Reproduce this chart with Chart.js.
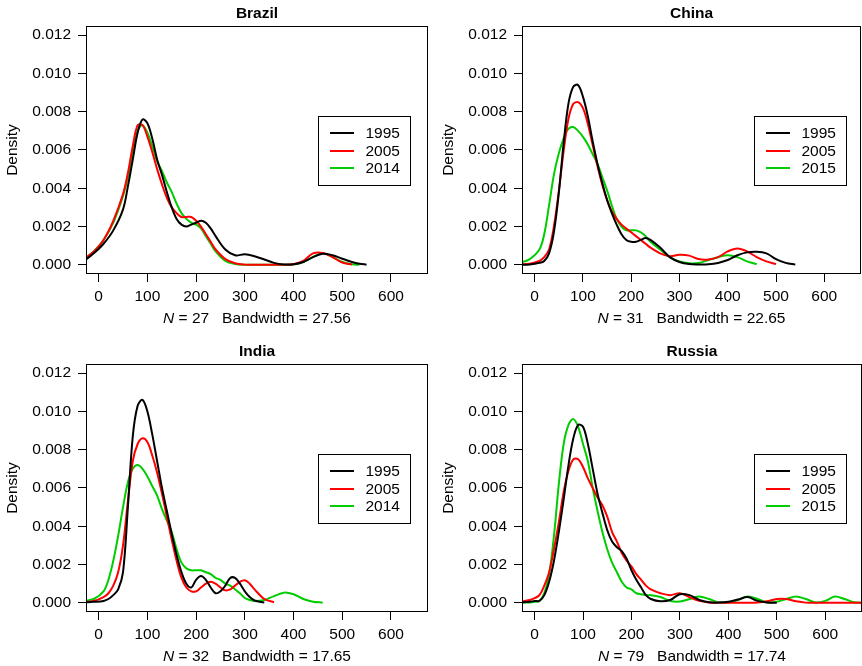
<!DOCTYPE html>
<html>
<head>
<meta charset="utf-8">
<script src="https://cdn.jsdelivr.net/npm/chart.js@4/dist/chart.umd.min.js"></script>
<style>
  html, body { margin: 0; padding: 0; background: #fff; }
  #wrap { position: relative; width: 862px; height: 666px; overflow: hidden; }
  #wrap canvas { position: absolute; }
</style>
</head>
<body>
<div id="wrap">
  <canvas id="brazilChart" width="431" height="333" style="left:0;top:0"></canvas>
  <canvas id="chinaChart" width="431" height="333" style="left:431px;top:0"></canvas>
  <canvas id="indiaChart" width="431" height="333" style="left:0;top:333px"></canvas>
  <canvas id="russiaChart" width="431" height="333" style="left:431px;top:333px"></canvas>
</div>
<script>
// axis ticks (same for every panel)
const xTicks = [0, 100, 200, 300, 400, 500, 600];
const yTicks = [0, 0.002, 0.004, 0.006, 0.008, 0.010, 0.012];

// Brazil
const brazilX = [-30, -10, 10, 30, 50, 60, 70, 80, 90, 100, 110, 120, 130, 140, 150, 160, 170, 180, 190, 200,
  210, 220, 230, 240, 260, 280, 300, 320, 340, 360, 380, 400, 420, 440, 460, 480, 500, 520, 535, 550];
const brazil1995 = [0.0002, 0.0006, 0.0011, 0.0018, 0.0029, 0.0041, 0.0055, 0.0069, 0.0076, 0.0074, 0.0066, 0.0055, 0.0047, 0.0038, 0.0030, 0.0024, 0.0021, 0.0020, 0.0021, 0.0022,
  0.0023, 0.0022, 0.0019, 0.0015, 0.0008, 0.0005, 0.00055, 0.00045, 0.00028, 0.0001, 0.00002, 0.00003, 0.00015, 0.0004, 0.00058, 0.0005, 0.00032, 0.00015, 0.00006, 0.00001];
const brazil2005 = [0.0003, 0.0007, 0.0013, 0.0023, 0.0037, 0.0048, 0.0062, 0.0073, 0.0073, 0.0067, 0.0059, 0.0050, 0.0042, 0.0035, 0.0030, 0.0027, 0.0025, 0.0025, 0.0025, 0.0023,
  0.0020, 0.0016, 0.0012, 0.0008, 0.0003, 0.00008, 0.00001, 0, 0, 0, 0, 0.00003, 0.0002, 0.0006, 0.00062, 0.0004, 0.00012, 0.00001, null, null];
const brazil2014 = [0.0003, 0.0007, 0.0013, 0.0022, 0.0036, 0.0046, 0.0059, 0.0070, 0.0073, 0.0069, 0.0062, 0.0054, 0.0049, 0.0043, 0.0038, 0.0032, 0.0027, 0.0024, 0.0022, 0.0021,
  0.0019, 0.0015, 0.0011, 0.0007, 0.0002, 0.00004, 0, 0, 0, 0, 0, 0.00002, 0.00015, 0.0004, 0.00062, 0.0004, 0.00015, 0.00003, 0, null];

// China
const chinaX = [-30, -10, 10, 20, 30, 40, 50, 60, 70, 80, 90, 100, 110, 120, 130, 140, 150, 160, 170, 180,
  190, 200, 210, 220, 230, 240, 260, 280, 300, 320, 340, 360, 380, 400, 420, 440, 460, 480, 500, 520, 540];
const china1995 = [0, 0.00002, 0.0001, 0.0002, 0.0006, 0.0017, 0.0037, 0.0063, 0.0084, 0.0093, 0.0094, 0.0088, 0.0078, 0.0065, 0.0053, 0.0043, 0.0034, 0.0027, 0.0021, 0.0016,
  0.0013, 0.0012, 0.0012, 0.0013, 0.0014, 0.0013, 0.0009, 0.0004, 0.00015, 0.00004, 0.00002, 0.00003, 0.0001, 0.00025, 0.0005, 0.00065, 0.00068, 0.0006, 0.0003, 0.0001, 0.00001];
const china2005 = [0.00002, 0.00005, 0.0002, 0.0004, 0.0008, 0.0020, 0.0038, 0.0059, 0.0076, 0.0084, 0.0085, 0.0082, 0.0074, 0.0063, 0.0052, 0.0042, 0.0034, 0.0028, 0.0024, 0.0021,
  0.0019, 0.0017, 0.0015, 0.0013, 0.0011, 0.0009, 0.0006, 0.00045, 0.00052, 0.00048, 0.0003, 0.00028, 0.0004, 0.0007, 0.00085, 0.0007, 0.0004, 0.00018, 0.00004, null, null];
const china2015 = [0.0001, 0.0003, 0.0008, 0.0016, 0.0031, 0.0047, 0.0058, 0.0066, 0.0071, 0.0072, 0.0070, 0.0067, 0.0063, 0.0058, 0.0053, 0.0046, 0.0039, 0.0031, 0.0024, 0.0020,
  0.0018, 0.0018, 0.0018, 0.0017, 0.0015, 0.0012, 0.0008, 0.0004, 0.00017, 0.00008, 0.0001, 0.00025, 0.0004, 0.0005, 0.0004, 0.00018, 0.00003, null, null, null, null];

// India
const indiaX = [-30, -10, 10, 20, 30, 40, 50, 60, 70, 80, 90, 100, 110, 120, 130, 140, 150, 160, 170, 180,
  190, 200, 210, 220, 230, 240, 250, 260, 270, 280, 290, 300, 310, 320, 340, 360, 380, 400, 420, 440, 460];
const india1995 = [0.00002, 0.00005, 0.0001, 0.0002, 0.0004, 0.0007, 0.0016, 0.0050, 0.0087, 0.0103, 0.0106, 0.0100, 0.0088, 0.0074, 0.0060, 0.0048, 0.0036, 0.0025, 0.0016, 0.0010,
  0.0008, 0.0012, 0.0014, 0.0012, 0.0008, 0.0005, 0.0006, 0.0009, 0.0013, 0.0013, 0.0010, 0.0006, 0.0003, 0.00012, 0.00001, null, null, null, null, null, null];
const india2005 = [0.00005, 0.0001, 0.0003, 0.0005, 0.0009, 0.0016, 0.0030, 0.0053, 0.0074, 0.0083, 0.0086, 0.0084, 0.0077, 0.0068, 0.0057, 0.0045, 0.0033, 0.0022, 0.0013, 0.0008,
  0.0006, 0.0006, 0.0008, 0.0010, 0.0011, 0.0010, 0.0008, 0.00065, 0.0007, 0.0009, 0.0011, 0.00118, 0.0010, 0.0007, 0.0002, 0.00003, null, null, null, null, null];
const india2014 = [0.0001, 0.0002, 0.0006, 0.0012, 0.0022, 0.0035, 0.0050, 0.0063, 0.0070, 0.0072, 0.0070, 0.0066, 0.0061, 0.0056, 0.0049, 0.0043, 0.0037, 0.0028, 0.0021, 0.0018,
  0.0017, 0.0017, 0.0017, 0.0016, 0.0015, 0.0013, 0.0012, 0.0010, 0.0009, 0.0007, 0.0005, 0.00025, 0.00015, 0.0001, 0.00015, 0.00035, 0.00053, 0.00045, 0.0002, 0.00006, 0.00001];

// Russia
const russiaX = [-30, -10, 0, 10, 20, 30, 40, 50, 60, 70, 80, 90, 100, 110, 120, 130, 140, 150, 160, 170,
  180, 190, 200, 210, 220, 230, 240, 260, 280, 300, 320, 340, 360, 380, 400, 420, 440, 460, 480, 500,
  520, 540, 560, 580, 600, 620, 640, 660, 680];
const russia1995 = [0.00002, 0.00005, 0.0001, 0.0001, 0.0004, 0.0011, 0.0022, 0.0037, 0.0054, 0.0072, 0.0086, 0.0093, 0.0092, 0.0083, 0.0070, 0.0057, 0.0047, 0.0038, 0.0032, 0.0029,
  0.0027, 0.0023, 0.0017, 0.0012, 0.0008, 0.0004, 0.0002, 0.00008, 0.00015, 0.00045, 0.0004, 0.00015, 0.00003, 0.00001, 0.00005, 0.00017, 0.0003, 0.0001, 0.00002, 0,
  null, null, null, null, null, null, null, null, null];
const russia2005 = [0.00005, 0.00015, 0.00024, 0.0004, 0.0009, 0.0016, 0.0028, 0.0042, 0.0058, 0.0069, 0.0075, 0.0075, 0.0071, 0.0065, 0.0060, 0.0055, 0.0051, 0.0045, 0.0037, 0.0032,
  0.0026, 0.0022, 0.0019, 0.0015, 0.0012, 0.0009, 0.0007, 0.0005, 0.0004, 0.0005, 0.0003, 0.0001, 0.00002, 0, 0, 0, 0, 0.00001, 0.00008, 0.0002,
  0.0002, 0.00008, 0.00001, 0, 0, 0, 0, 0, 0];
const russia2015 = [0.00001, 0.00002, 0.00005, 0.0001, 0.0005, 0.0015, 0.0035, 0.0062, 0.0083, 0.0093, 0.0096, 0.0092, 0.0083, 0.0074, 0.0060, 0.0048, 0.0037, 0.0028, 0.0021, 0.0016,
  0.0011, 0.0008, 0.0007, 0.0005, 0.00045, 0.0004, 0.0004, 0.0003, 0.0001, 0.00007, 0.0002, 0.00033, 0.0002, 0.00003, 0.00002, 0.00015, 0.00033, 0.0002, 0.00002, 0.00005,
  0.0002, 0.00033, 0.0002, 0.00002, 0.0001, 0.00033, 0.0002, 0.00003, 0];

// panel texts
const countries = ['Brazil', 'China', 'India', 'Russia'];
const sampleSizes = [27, 31, 32, 79];
const bandwidths = ['27.56', '22.65', '17.65', '17.74'];
const legendYears = [['1995', '2005', '2014'], ['1995', '2005', '2015'], ['1995', '2005', '2014'], ['1995', '2005', '2015']];

const lineColors = ['#000000', '#FF0000', '#00CD00'];
const FONT = "'Liberation Sans', Arial, Helvetica, sans-serif";

function toPoints(xs, ys) {
    return xs.map((x, i) => ({ x: x, y: ys[i] }));
}

// box, title, y label, N/bandwidth line and legend like base R
const rDecor = {
    id: 'rDecor',
    afterDraw(chart, args, opts) {
        const ctx = chart.ctx;
        const a = chart.chartArea;
        ctx.save();
        ctx.strokeStyle = '#000';
        ctx.lineWidth = 1;
        ctx.strokeRect(Math.round(a.left) + 0.5, Math.round(a.top) + 0.5,
            Math.round(a.right - a.left) - 1, Math.round(a.bottom - a.top) - 1);

        ctx.fillStyle = '#000';
        ctx.textAlign = 'center';
        ctx.textBaseline = 'middle';
        ctx.font = 'bold 15.5px ' + FONT;
        const cx = (a.left + a.right) / 2;
        ctx.fillText(opts.title, cx, a.top - 12.5);

        // Density
        ctx.save();
        ctx.translate(a.left - 73, (a.top + a.bottom) / 2);
        ctx.rotate(-Math.PI / 2);
        ctx.font = '15.5px ' + FONT;
        ctx.fillText('Density', 0, 0);
        ctx.restore();

        // N = .. Bandwidth = ..
        const p1 = 'N';
        const p2 = ' = ' + opts.n + '   Bandwidth = ' + opts.bw;
        ctx.font = 'italic 15.5px ' + FONT;
        const w1 = ctx.measureText(p1).width;
        ctx.font = '15.5px ' + FONT;
        const w2 = ctx.measureText(p2).width;
        const sx = cx - (w1 + w2) / 2;
        const sy = a.bottom + 45;
        ctx.textAlign = 'left';
        ctx.font = 'italic 15.5px ' + FONT;
        ctx.fillText(p1, sx, sy);
        ctx.font = '15.5px ' + FONT;
        ctx.fillText(p2, sx + w1, sy);

        // legend
        const lx = a.left + 232, ly = a.top + 90;
        ctx.fillStyle = '#fff';
        ctx.fillRect(lx, ly, 92, 69);
        ctx.strokeStyle = '#000';
        ctx.strokeRect(Math.round(lx) + 0.5, Math.round(ly) + 0.5, 92, 69);
        const rows = [17, 35, 52];
        opts.years.forEach((yr, i) => {
            ctx.strokeStyle = lineColors[i];
            ctx.lineWidth = 2;
            ctx.beginPath();
            ctx.moveTo(lx + 12, ly + rows[i]);
            ctx.lineTo(lx + 36, ly + rows[i]);
            ctx.stroke();
            ctx.fillStyle = '#000';
            ctx.fillText(yr, lx + 47.5, ly + rows[i] + 1);
        });
        ctx.restore();
    }
};

function makePanel(id, idx, xs, series, pad, yWidth, xHeight) {
    new Chart(document.getElementById(id), {
        type: 'line',
        data: {
            datasets: series.map((ys, i) => ({
                label: legendYears[idx][i],
                data: toPoints(xs, ys),
                borderColor: lineColors[i],
                borderWidth: 2,
                pointRadius: 0,
                fill: false,
                tension: 0.35,
                spanGaps: false
            }))
        },
        options: {
            responsive: false,
            animation: false,
            events: [],
            layout: { padding: pad },
            plugins: {
                legend: { display: false },
                tooltip: { enabled: false },
                rDecor: { title: countries[idx], n: sampleSizes[idx], bw: bandwidths[idx], years: legendYears[idx] }
            },
            scales: {
                x: {
                    type: 'linear',
                    min: -26,
                    max: 676,
                    afterBuildTicks: s => { s.ticks = xTicks.map(v => ({ value: v })); },
                    afterFit: s => { s.height = xHeight; },
                    border: { display: false },
                    grid: { drawOnChartArea: false, drawTicks: true, tickLength: 8, color: '#000', lineWidth: 1 },
                    ticks: { autoSkip: false, maxRotation: 0, padding: 5, color: '#000', font: { family: FONT, size: 15.5 } }
                },
                y: {
                    type: 'linear',
                    min: -0.00048,
                    max: 0.01248,
                    afterBuildTicks: s => { s.ticks = yTicks.map(v => ({ value: v })); },
                    afterFit: s => { s.width = yWidth; },
                    border: { display: false },
                    grid: { drawOnChartArea: false, drawTicks: true, tickLength: 8, color: '#000', lineWidth: 1 },
                    ticks: {
                        autoSkip: false, padding: 7, color: '#000', font: { family: FONT, size: 15.5 },
                        callback: v => v.toFixed(3)
                    }
                }
            }
        },
        plugins: [rDecor]
    });
}

makePanel('brazilChart', 0, brazilX, [brazil1995, brazil2005, brazil2014], { top: 26, right: 3, left: 0, bottom: 0 }, 86, 59);
makePanel('chinaChart', 1, chinaX, [china1995, china2005, china2015], { top: 26, right: 1, left: 0, bottom: 0 }, 91, 59);
makePanel('indiaChart', 2, indiaX, [india1995, india2005, india2014], { top: 31, right: 3, left: 0, bottom: 0 }, 86, 54);
makePanel('russiaChart', 3, russiaX, [russia1995, russia2005, russia2015], { top: 31, right: 0, left: 0, bottom: 0 }, 91, 54);
</script>
</body>
</html>
